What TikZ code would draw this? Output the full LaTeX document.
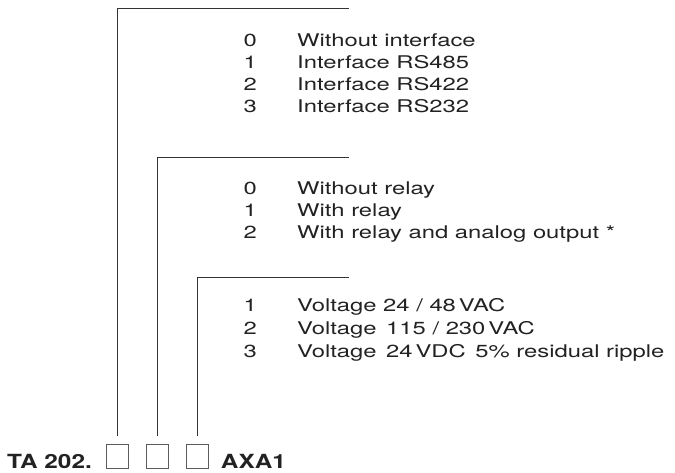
\documentclass[tikz,border=0pt]{standalone}
\usepackage{fontspec}
\setmainfont{TeX Gyre Heros}
\newfontfamily\optfont[FakeStretch=1.36]{TeX Gyre Heros}
\newfontfamily\codefont[FakeStretch=1.25]{TeX Gyre Heros}
\usetikzlibrary{positioning}
\definecolor{tdInk}{HTML}{222222}
\definecolor{tdRule}{HTML}{333333}
\tikzset{
  leader/.style={draw=tdRule, line width=0.9pt},
  slot/.style={draw=tdRule!80, line width=0.9pt, minimum width=22pt,
    minimum height=24pt, inner sep=0pt},
  code/.style={font=\codefont\bfseries\fontsize{19.5}{21}\selectfont,
    text=tdInk, inner sep=0pt},
  opt/.style={font=\optfont\fontsize{17.5}{20}\selectfont, text=tdInk,
    inner sep=0pt, text height=12.5pt, text depth=4pt, anchor=base west},
  num/.style={opt}
}
\begin{document}
\begin{tikzpicture}[x=1pt, y=-1pt]
  \useasboundingbox (0,0) rectangle (675,472);
  % ordering code
  \node[slot] (s1) at (117.5,456) {};
  \node[slot, right=17pt of s1] (s2) {};
  \node[slot, right=17pt of s2] (s3) {};
  \node[code, left=14pt of s1.south west, anchor=base east] (type) {TA 202.};
  \node[code, right=12pt of s3.south east, anchor=base west] (suffix) {AXA1};
  % interface
  \node[opt] (if0) at (297,46) {Without interface};
  \node[opt] (if1) at (297,68) {Interface RS485};
  \node[opt] (if2) at (297,90) {Interface RS422};
  \node[opt] (if3) at (297,112) {Interface RS232};
  \node[num, left=40pt of if0] (n0) {0};
  \node[num, left=40pt of if1] (n1) {1};
  \node[num, left=40pt of if2] (n2) {2};
  \node[num, left=40pt of if3] (n3) {3};
  % relay
  \node[opt] (rl0) at (297,194) {Without relay};
  \node[opt] (rl1) at (297,216) {With relay};
  \node[opt] (rl2) at (297,238) {With relay and analog output *};
  \node[num, left=40pt of rl0] (m0) {0};
  \node[num, left=40pt of rl1] (m1) {1};
  \node[num, left=40pt of rl2] (m2) {2};
  % supply
  \node[opt] (sp1) at (297,311) {Voltage 24 / 48\,VAC};
  \node[opt] (sp2) at (297,334) {Voltage\kern3pt{} 115 / 230\,VAC};
  \node[opt] (sp3) at (297,357) {Voltage\kern3pt{} 24\,VDC\kern3pt{} 5\% residual ripple};
  \node[num, left=40pt of sp1] (k1) {1};
  \node[num, left=40pt of sp2] (k2) {2};
  \node[num, left=40pt of sp3] (k3) {3};
  % leaders
  \coordinate (e1) at (349,8);
  \coordinate (e2) at (349,157);
  \coordinate (e3) at (349,277);
  \draw[leader] ([yshift=8pt]s1.north) |- (e1);
  \draw[leader] ([yshift=8pt]s2.north) |- (e2);
  \draw[leader] ([yshift=8pt]s3.north) |- (e3);
\end{tikzpicture}
\end{document}
